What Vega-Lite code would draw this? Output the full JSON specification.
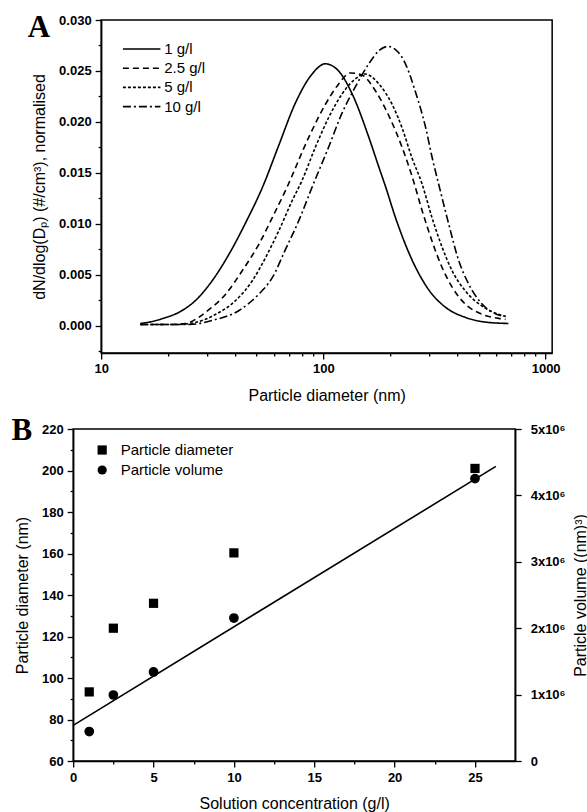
{
  "$schema": "https://vega.github.io/schema/vega-lite/v6.json",
  "padding": {"left": 10, "top": 10, "right": 0, "bottom": 0},
  "background": "white",
  "config": {
    "font": "Liberation Sans",
    "view": {"stroke": "black", "strokeWidth": 1.5},
    "axis": {"grid": false, "domainColor": "black", "domainWidth": 1.5, "tickColor": "black", "tickWidth": 1.3, "labelColor": "black", "titleColor": "black", "labelFont": "Liberation Sans", "labelFontSize": 13, "labelFontWeight": "bold", "titleFont": "Liberation Sans", "titleFontSize": 16, "titleFontWeight": "normal", "labelOverlap": false, "labelFlush": false, "labelBound": false},
    "legend": {"labelFont": "Liberation Sans", "labelFontSize": 15, "labelColor": "black", "padding": 0},
    "title": {"color": "black"}
  },
  "datasets": {
    "curves": [
      {"c": "1 g/l", "d": 15, "v": 0.0002}, {"c": "1 g/l", "d": 17, "v": 0.0004}, {"c": "1 g/l", "d": 19, "v": 0.0007}, {"c": "1 g/l", "d": 22.4, "v": 0.0013}, {"c": "1 g/l", "d": 26.7, "v": 0.0025}, {"c": "1 g/l", "d": 31.6, "v": 0.0044}, {"c": "1 g/l", "d": 37.6, "v": 0.0070}, {"c": "1 g/l", "d": 44.7, "v": 0.0101}, {"c": "1 g/l", "d": 53.5, "v": 0.0137}, {"c": "1 g/l", "d": 63, "v": 0.0177}, {"c": "1 g/l", "d": 75, "v": 0.0219}, {"c": "1 g/l", "d": 89, "v": 0.0247}, {"c": "1 g/l", "d": 102, "v": 0.0257}, {"c": "1 g/l", "d": 117, "v": 0.0250}, {"c": "1 g/l", "d": 135, "v": 0.0227}, {"c": "1 g/l", "d": 160, "v": 0.0185}, {"c": "1 g/l", "d": 178, "v": 0.0155}, {"c": "1 g/l", "d": 190, "v": 0.0137}, {"c": "1 g/l", "d": 211, "v": 0.0106}, {"c": "1 g/l", "d": 251, "v": 0.0064}, {"c": "1 g/l", "d": 298, "v": 0.0035}, {"c": "1 g/l", "d": 354, "v": 0.0018}, {"c": "1 g/l", "d": 435, "v": 0.0008}, {"c": "1 g/l", "d": 554, "v": 0.0003}, {"c": "1 g/l", "d": 680, "v": 0.0002},
      {"c": "2.5 g/l", "d": 15, "v": 0.0001}, {"c": "2.5 g/l", "d": 20, "v": 0.0001}, {"c": "2.5 g/l", "d": 24, "v": 0.0002}, {"c": "2.5 g/l", "d": 27, "v": 0.0007}, {"c": "2.5 g/l", "d": 29.5, "v": 0.0013}, {"c": "2.5 g/l", "d": 36.4, "v": 0.0031}, {"c": "2.5 g/l", "d": 43.2, "v": 0.0054}, {"c": "2.5 g/l", "d": 51.3, "v": 0.0080}, {"c": "2.5 g/l", "d": 58.9, "v": 0.0106}, {"c": "2.5 g/l", "d": 68, "v": 0.0134}, {"c": "2.5 g/l", "d": 86, "v": 0.0185}, {"c": "2.5 g/l", "d": 102, "v": 0.0217}, {"c": "2.5 g/l", "d": 117, "v": 0.0237}, {"c": "2.5 g/l", "d": 132, "v": 0.0248}, {"c": "2.5 g/l", "d": 149, "v": 0.0246}, {"c": "2.5 g/l", "d": 172, "v": 0.0230}, {"c": "2.5 g/l", "d": 197, "v": 0.0206}, {"c": "2.5 g/l", "d": 226, "v": 0.0175}, {"c": "2.5 g/l", "d": 251, "v": 0.0146}, {"c": "2.5 g/l", "d": 278, "v": 0.0113}, {"c": "2.5 g/l", "d": 308, "v": 0.0083}, {"c": "2.5 g/l", "d": 342, "v": 0.0057}, {"c": "2.5 g/l", "d": 379, "v": 0.0038}, {"c": "2.5 g/l", "d": 435, "v": 0.0021}, {"c": "2.5 g/l", "d": 518, "v": 0.0011}, {"c": "2.5 g/l", "d": 615, "v": 0.0007}, {"c": "2.5 g/l", "d": 660, "v": 0.0006},
      {"c": "5 g/l", "d": 15, "v": 0.0001}, {"c": "5 g/l", "d": 22, "v": 0.0001}, {"c": "5 g/l", "d": 26.6, "v": 0.0003}, {"c": "5 g/l", "d": 32.8, "v": 0.0011}, {"c": "5 g/l", "d": 40.5, "v": 0.0025}, {"c": "5 g/l", "d": 47.9, "v": 0.0044}, {"c": "5 g/l", "d": 55, "v": 0.0067}, {"c": "5 g/l", "d": 63, "v": 0.0093}, {"c": "5 g/l", "d": 72.5, "v": 0.0123}, {"c": "5 g/l", "d": 80, "v": 0.0142}, {"c": "5 g/l", "d": 92, "v": 0.0175}, {"c": "5 g/l", "d": 105.5, "v": 0.0204}, {"c": "5 g/l", "d": 121, "v": 0.0227}, {"c": "5 g/l", "d": 139, "v": 0.0242}, {"c": "5 g/l", "d": 154, "v": 0.0247}, {"c": "5 g/l", "d": 178, "v": 0.0237}, {"c": "5 g/l", "d": 204, "v": 0.0217}, {"c": "5 g/l", "d": 226, "v": 0.0194}, {"c": "5 g/l", "d": 250, "v": 0.0165}, {"c": "5 g/l", "d": 278, "v": 0.0139}, {"c": "5 g/l", "d": 308, "v": 0.0106}, {"c": "5 g/l", "d": 342, "v": 0.0077}, {"c": "5 g/l", "d": 379, "v": 0.0054}, {"c": "5 g/l", "d": 435, "v": 0.0034}, {"c": "5 g/l", "d": 518, "v": 0.0019}, {"c": "5 g/l", "d": 615, "v": 0.0011}, {"c": "5 g/l", "d": 660, "v": 0.0009},
      {"c": "10 g/l", "d": 15, "v": 0.0001}, {"c": "10 g/l", "d": 25, "v": 0.0001}, {"c": "10 g/l", "d": 31.6, "v": 0.0005}, {"c": "10 g/l", "d": 41.9, "v": 0.0015}, {"c": "10 g/l", "d": 51.3, "v": 0.0031}, {"c": "10 g/l", "d": 58.9, "v": 0.0047}, {"c": "10 g/l", "d": 67.6, "v": 0.0075}, {"c": "10 g/l", "d": 77.5, "v": 0.0103}, {"c": "10 g/l", "d": 89, "v": 0.0136}, {"c": "10 g/l", "d": 105.5, "v": 0.0175}, {"c": "10 g/l", "d": 121, "v": 0.0208}, {"c": "10 g/l", "d": 139, "v": 0.0234}, {"c": "10 g/l", "d": 160, "v": 0.0257}, {"c": "10 g/l", "d": 178, "v": 0.0270}, {"c": "10 g/l", "d": 195, "v": 0.0274}, {"c": "10 g/l", "d": 211, "v": 0.0271}, {"c": "10 g/l", "d": 234, "v": 0.0257}, {"c": "10 g/l", "d": 259, "v": 0.0230}, {"c": "10 g/l", "d": 288, "v": 0.0195}, {"c": "10 g/l", "d": 310, "v": 0.0163}, {"c": "10 g/l", "d": 330, "v": 0.0139}, {"c": "10 g/l", "d": 366, "v": 0.0100}, {"c": "10 g/l", "d": 406, "v": 0.0064}, {"c": "10 g/l", "d": 450, "v": 0.0041}, {"c": "10 g/l", "d": 518, "v": 0.0021}, {"c": "10 g/l", "d": 600, "v": 0.0011}, {"c": "10 g/l", "d": 660, "v": 0.0009}
    ],
    "diam": [
      {"conc": 1, "diameter": 93.3, "series": "Particle diameter"},
      {"conc": 2.5, "diameter": 124, "series": "Particle diameter"},
      {"conc": 5, "diameter": 136, "series": "Particle diameter"},
      {"conc": 10, "diameter": 160.3, "series": "Particle diameter"},
      {"conc": 25, "diameter": 201, "series": "Particle diameter"}
    ],
    "vol": [
      {"conc": 1, "volume": 444000, "series": "Particle volume"},
      {"conc": 2.5, "volume": 994000, "series": "Particle volume"},
      {"conc": 5, "volume": 1341000, "series": "Particle volume"},
      {"conc": 10, "volume": 2153000, "series": "Particle volume"},
      {"conc": 25, "volume": 4253000, "series": "Particle volume"}
    ],
    "fit": [
      {"conc": 0, "volume": 537500},
      {"conc": 26.3, "volume": 4437500}
    ]
  },
  "vconcat": [
    {
      "width": 451,
      "height": 333,
      "title": {"text": "A", "anchor": "start", "frame": "bounds", "font": "Liberation Serif", "fontSize": 31, "fontWeight": "bold", "baseline": "alphabetic", "offset": -53.5, "dx": -4},
      "data": {"name": "curves"},
      "mark": {"type": "line", "color": "black", "strokeWidth": 1.6, "interpolate": "monotone"},
      "encoding": {
        "x": {"field": "d", "type": "quantitative", "scale": {"type": "log", "domain": [10, 1070], "nice": false},
          "axis": {"title": "Particle diameter (nm)", "values": [10, 20, 30, 40, 50, 60, 70, 80, 90, 100, 200, 300, 400, 500, 600, 700, 800, 900, 1000],
            "labelExpr": "(datum.value==10||datum.value==100||datum.value==1000) ? format(datum.value,'d') : ''",
            "tickSize": {"condition": {"test": "datum.value==10||datum.value==100||datum.value==1000", "value": 6}, "value": 3},
            "labelPadding": 3, "titlePadding": 12}},
        "y": {"field": "v", "type": "quantitative", "scale": {"domain": [-0.0027, 0.030], "nice": false, "zero": false},
          "axis": {"title": "dN/dlog(Dₚ) (#/cm³), normalised", "values": [-0.0025, 0, 0.0025, 0.005, 0.0075, 0.01, 0.0125, 0.015, 0.0175, 0.02, 0.0225, 0.025, 0.0275, 0.03],
            "labelExpr": "abs(round(datum.value*10000))%50==0 ? format(datum.value,'.3f') : ''",
            "tickSize": {"condition": {"test": "abs(round(datum.value*10000))%50==0", "value": 6}, "value": 3},
            "labelPadding": 4, "titlePadding": 11}},
        "strokeDash": {"field": "c", "type": "nominal",
          "scale": {"domain": ["1 g/l", "2.5 g/l", "5 g/l", "10 g/l"], "range": [[1, 0], [6, 4], [3, 2], [8, 3, 2, 3]]},
          "legend": {"title": null, "orient": "none", "legendX": 32, "legendY": 20.5, "symbolType": "M-2.5,0H2.5", "symbolSize": 225, "symbolStrokeWidth": 1.6, "symbolStrokeColor": "black", "labelOffset": 14, "rowPadding": 2.2}}
      }
    },
    {
      "width": 442,
      "height": 332,
      "title": {"text": "B", "anchor": "start", "frame": "bounds", "font": "Liberation Serif", "fontSize": 31, "fontWeight": "bold", "baseline": "alphabetic", "offset": -48, "dx": -3},
      "layer": [
        {
          "data": {"name": "diam"},
          "mark": {"type": "point", "filled": true, "color": "black", "size": 85, "opacity": 1},
          "encoding": {
            "x": {"field": "conc", "type": "quantitative", "scale": {"domain": [0, 27.5], "nice": false},
              "axis": {"title": "Solution concentration (g/l)", "values": [0, 2.5, 5, 7.5, 10, 12.5, 15, 17.5, 20, 22.5, 25],
                "labelExpr": "datum.value%5==0 ? format(datum.value,'d') : ''",
                "tickSize": {"condition": {"test": "datum.value%5==0", "value": 6}, "value": 3},
                "labelPadding": 4, "titlePadding": 11}},
            "y": {"field": "diameter", "type": "quantitative", "scale": {"domain": [60, 220], "nice": false, "zero": false},
              "axis": {"title": "Particle diameter (nm)", "values": [60, 70, 80, 90, 100, 110, 120, 130, 140, 150, 160, 170, 180, 190, 200, 210, 220],
                "labelExpr": "datum.value%20==0 ? format(datum.value,'d') : ''",
                "tickSize": {"condition": {"test": "datum.value%20==0", "value": 6}, "value": 3},
                "labelPadding": 4, "titlePadding": 11}},
            "shape": {"field": "series", "type": "nominal",
              "scale": {"domain": ["Particle diameter", "Particle volume"], "range": ["square", "circle"]},
              "legend": {"title": null, "orient": "none", "legendX": 21.5, "legendY": 13.5, "symbolSize": 85, "symbolFillColor": "black", "symbolStrokeColor": "black", "symbolStrokeWidth": 0, "labelOffset": 11, "rowPadding": 4}}
          }
        },
        {
          "layer": [
            {
              "data": {"name": "vol"},
              "mark": {"type": "point", "filled": true, "color": "black", "size": 95, "opacity": 1},
              "encoding": {
                "x": {"field": "conc", "type": "quantitative", "scale": {"domain": [0, 27.5], "nice": false}},
                "y": {"field": "volume", "type": "quantitative", "scale": {"domain": [0, 5000000], "nice": false, "zero": false},
                  "axis": {"orient": "right", "title": "Particle volume ((nm)³)", "titleAngle": 270, "titleBaseline": "top",
                    "values": [0, 500000, 1000000, 1500000, 2000000, 2500000, 3000000, 3500000, 4000000, 4500000, 5000000],
                    "labelExpr": "datum.value==0 ? '0' : (datum.value%1000000==0 ? format(datum.value/1000000,'d') + 'x10⁶' : '')",
                    "tickSize": {"condition": {"test": "datum.value%1000000==0", "value": 6}, "value": 3},
                    "labelPadding": 9, "titlePadding": 7}},
                "shape": {"field": "series", "type": "nominal"}
              }
            },
            {
              "data": {"name": "fit"},
              "mark": {"type": "line", "color": "black", "strokeWidth": 1.6},
              "encoding": {
                "x": {"field": "conc", "type": "quantitative"},
                "y": {"field": "volume", "type": "quantitative"}
              }
            }
          ]
        }
      ],
      "resolve": {"scale": {"y": "independent"}}
    }
  ],
  "resolve": {"scale": {"shape": "independent", "strokeDash": "independent"}},
  "spacing": 10,
  "center": true
}
